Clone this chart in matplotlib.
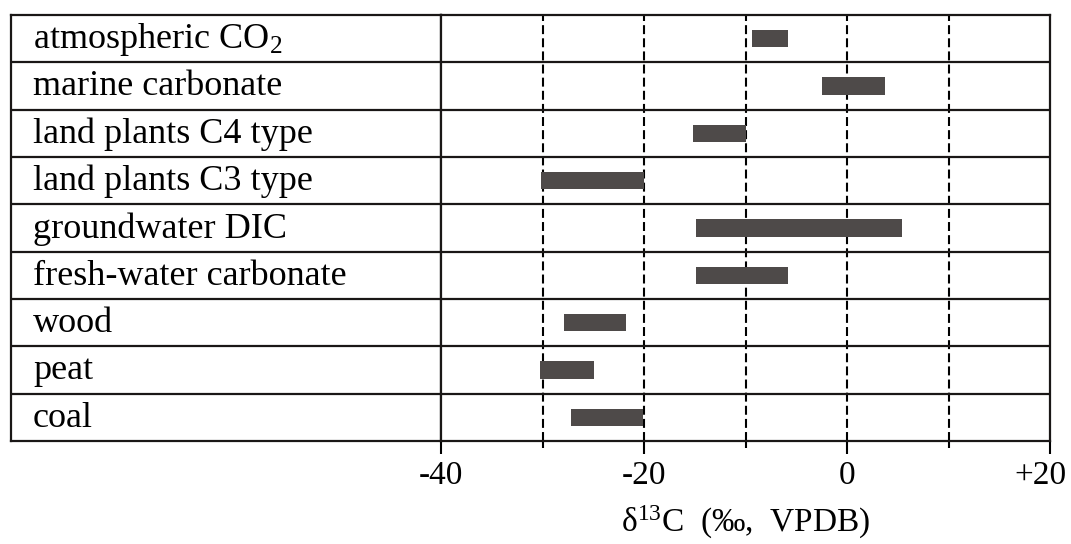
import matplotlib.pyplot as plt
import matplotlib.transforms as mtransforms

plt.rcParams['font.family'] = ['Liberation Serif', 'DejaVu Serif']
plt.rcParams['mathtext.fontset'] = 'custom'
plt.rcParams['mathtext.rm'] = 'Liberation Serif'
plt.rcParams['mathtext.it'] = 'Liberation Serif:italic'

sources = ['atmospheric CO$_2$', 'marine carbonate', 'land plants C4 type',
           'land plants C3 type', 'groundwater DIC', 'fresh-water carbonate',
           'wood', 'peat', 'coal']
low = [-9.4, -2.5, -15.2, -30.1, -14.9, -14.9, -27.9, -30.2, -27.2]
high = [-5.8, 3.7, -10.0, -20.0, 5.4, -5.8, -21.8, -24.9, -20.1]
tick_vals = [-40, -20, 0, 20]
tick_text = ['-40', '-20', '0', '+20']

fig = plt.figure(figsize=(10.71, 5.44), dpi=100)
W, H = 1071, 544
bottom = (H - 441) / H
height = 426 / H
lab_ax = fig.add_axes([11 / W, bottom, 430 / W, height])
ax = fig.add_axes([441 / W, bottom, 609 / W, height])

n = len(sources)
for a in (lab_ax, ax):
    a.set_ylim(n, 0)
    for s in a.spines.values():
        s.set_linewidth(1.6)
        s.set_color('#1a1716')
    for i in range(1, n):
        a.axhline(i, color='#1a1716', lw=1.6)

lab_ax.set_xlim(0, 1)
lab_ax.set_xticks([])
lab_ax.set_yticks([])
for i, s in enumerate(sources):
    lab_ax.text(22 / 430, i + 0.52, s, fontsize=26, va='center', ha='left')

ax.set_xlim(-40, 20)
for g in [-30, -20, -10, 0, 10]:
    ax.axvline(g, color='black', lw=1.5, ls=(0, (4.3, 2)), zorder=1)

ax.barh([i + 0.5 for i in range(n)], [h - l for l, h in zip(low, high)],
        left=low, height=0.36, color='#4e4a49', zorder=2)

ax.set_yticks([])
ax.set_xticks(tick_vals)
ax.set_xticklabels(tick_text, fontsize=24)
ax.set_xticks([-30, -10, 10], minor=True)
ax.tick_params(axis='x', which='major', direction='out', length=9, width=1.5, pad=5)
ax.tick_params(axis='x', which='minor', direction='out', length=5, width=1.5)
last = ax.get_xticklabels()[-1]
last.set_transform(last.get_transform() +
                   mtransforms.ScaledTranslation(-0.1, 0, fig.dpi_scale_trans))
ax.set_xlabel('δ$^{13}$C  (‰,  VPDB)', fontsize=24, labelpad=9)

fig.savefig('out.png', dpi=100)
